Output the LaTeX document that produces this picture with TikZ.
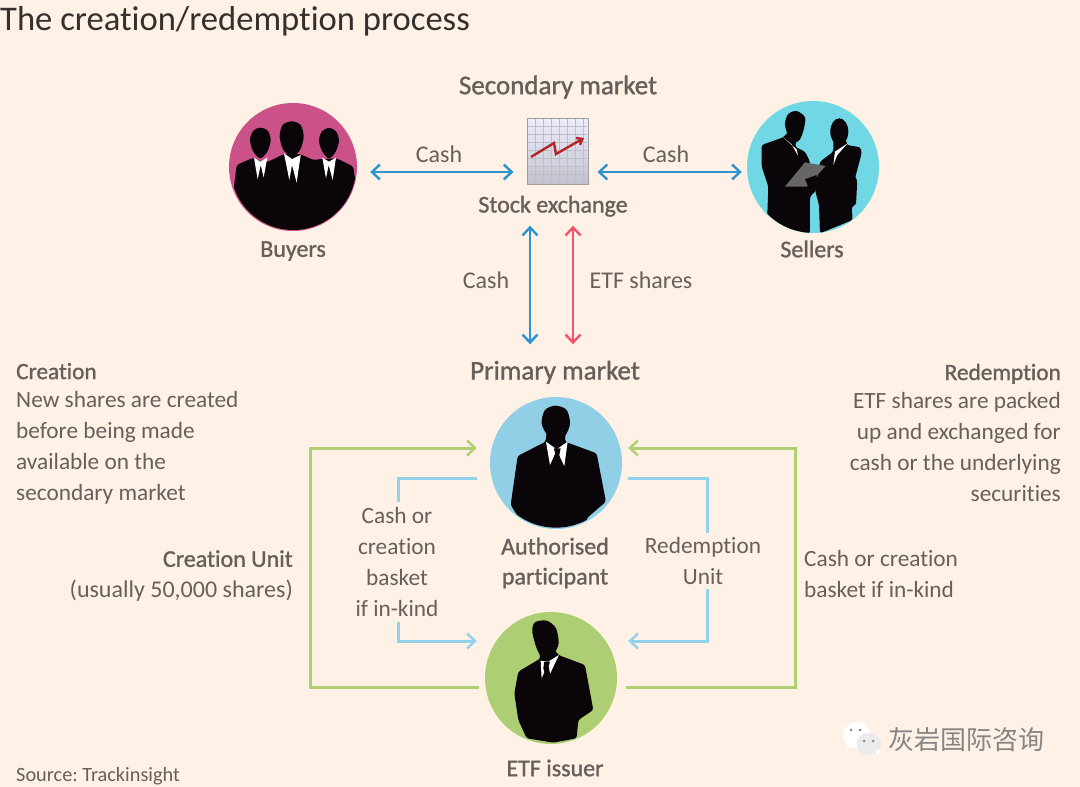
\documentclass[tikz,border=0pt]{standalone}
\usepackage{fontspec}
\setmainfont{Carlito}[Ligatures=NoCommon]
\newfontfamily\semifont{Carlito}[Ligatures=NoCommon, FakeBold=1.2]
\newfontfamily\cjkfont{Noto Sans CJK SC}
\usetikzlibrary{arrows.meta}
\definecolor{ftpaper}{HTML}{FFF1E5}
\definecolor{ftgrey}{HTML}{66605C}
\definecolor{ftink}{HTML}{33302E}
\definecolor{cashblue}{HTML}{2D94D2}
\definecolor{sharered}{HTML}{F2556B}
\definecolor{unitgreen}{HTML}{AFCF73}
\definecolor{basketblue}{HTML}{92D2EA}
\definecolor{buyerpink}{HTML}{CB5189}
\definecolor{sellercyan}{HTML}{70D8E4}
\definecolor{apblue}{HTML}{90CFE6}
\definecolor{issuergreen}{HTML}{ADCE72}
\definecolor{suit}{HTML}{0A0508}
\tikzset{
	ftlabel/.style={font=\fontsize{24}{31}\selectfont, text=ftgrey, inner sep=0pt, align=center},
	ftblock/.style={ftlabel, font=\fontsize{23.3}{31}\selectfont},
	ftbold/.style={ftlabel, font=\fontsize{24}{30}\selectfont\semifont},
	roundicon/.style={circle, inner sep=0pt, minimum size=#1},
	silhouette/.style={fill=suit, rounded corners=2.5pt},
	twobarb/.style={arrows={Straight Barb[length=8pt,width=15pt,line width=2.4pt]-Straight Barb[length=8pt,width=15pt,line width=2.4pt]}},
	barbs/.style={line width=2.4pt, arrows={-Straight Barb[length=8pt,width=15pt,line width=2.4pt]}},
	cashline/.style={barbs, cashblue, twobarb},
	shareline/.style={barbs, sharered, twobarb},
	unitline/.style={barbs, unitgreen, line width=3pt},
	basketline/.style={barbs, basketblue, line width=3pt},
}
\begin{document}
\frenchspacing
\begin{tikzpicture}[x=1pt, y=-1pt]
	\useasboundingbox (0,0) rectangle (1080,787);
	\fill[ftpaper] (0,0) rectangle (1080,787);

	\node[ftlabel, anchor=west, text=ftink, font=\fontsize{34.6}{40}\selectfont] (title) at (0,21) {The creation/redemption process};
	\node[ftbold, font=\fontsize{27}{30}\selectfont\semifont] (secondary) at (558,87) {Secondary market};
	\node[ftbold, font=\fontsize{27}{30}\selectfont\semifont, text height=16pt, text depth=5pt] (primary) at (555,374) {Primary market};

	% market players
	\node[roundicon=128pt, fill=buyerpink] (buyers) at (293,167) {};
	\node[roundicon=132pt, fill=sellercyan] (sellers) at (813,167) {};
	\node[roundicon=132pt, fill=apblue] (ap) at (556,463) {};
	\node[roundicon=132pt, fill=issuergreen] (issuer) at (551,678) {};
	\node[minimum width=61pt, minimum height=66pt, inner sep=0pt, draw=black!38, line width=1pt, top color=blue!7!white, bottom color=blue!20!black!24] (stock) at (557.5,151) {};

	\node[ftbold] (buyerslabel) at (293,251) {Buyers};
	\node[ftbold] (sellerslabel) at (812,249) {Sellers};
	\node[ftbold, text height=16pt, text depth=5pt] (stocklabel) at (553,207) {Stock exchange};
	\node[ftbold] (aplabel) at (555,563) {Authorised\\participant};
	\node[ftbold] (issuerlabel) at (555,768) {ETF issuer};

	% exchange icon
	\foreach \gx in {535,543,551,559,567,575,583}
		\draw[black!25, line width=0.6pt] (\gx,119) -- (\gx,183);
	\foreach \gy in {126,134,142,150,158,166,174}
		\draw[black!25, line width=0.6pt] (528,\gy) -- (587,\gy);
	\draw[red!65!black!85, line width=2.4pt, arrows={-Straight Barb[length=5pt,width=8pt]}] (531,157) -- (554,143) -- (556,154) -- (584,138);

	% buyers
	\begin{scope}[shift={(220,90)}, x=0.3333pt, y=-0.3333pt]
		\clip (220,232) circle[radius=188];
		\fill[silhouette] (42,290) -- (50,225) -- (100,203) -- (125,215) -- (145,215) -- (192,192) -- (240,192) -- (280,210) -- (305,207) -- (350,205) -- (400,230) -- (410,300) -- (410,430) -- (30,430) -- cycle;
		\fill[suit] plot[smooth cycle] coordinates {(90,150) (100,122) (121,113) (143,122) (152,150) (142,185) (121,205) (100,185)};
		\fill[suit] plot[smooth cycle] coordinates {(179,140) (188,105) (215,94) (242,105) (251,140) (240,180) (215,198) (190,180)};
		\fill[suit] plot[smooth cycle] coordinates {(297,152) (306,124) (327,114) (348,124) (357,152) (347,185) (327,205) (307,185)};
		\fill[white] (102,203) -- (113,268) -- (122,225) -- (131,262) -- (142,203) -- (121,215) -- cycle;
		\fill[white] (192,190) -- (208,270) -- (216,225) -- (230,278) -- (242,195) -- (216,207) -- cycle;
		\fill[white] (307,203) -- (318,265) -- (326,225) -- (338,270) -- (348,203) -- (327,215) -- cycle;
	\end{scope}

	% sellers
	\begin{scope}[shift={(620,90)}, x=0.3333pt, y=-0.3333pt]
		\clip (581,232) circle[radius=197];
		\fill[suit] plot[smooth cycle] coordinates {(495,100) (505,72) (530,63) (555,82) (552,115) (540,148) (522,158) (502,130)};
		\fill[silhouette] (505,125) -- (530,150) -- (525,170) -- (555,185) -- (570,215) -- (572,265) -- (590,300) -- (570,320) -- (570,430) -- (450,430) -- (442,375) -- (445,290) -- (425,230) -- (425,165) -- (490,142) -- cycle;
		\fill[suit] (658,125) ellipse[x radius=27, y radius=40];
		\fill[silhouette] (600,215) -- (640,185) -- (640,150) -- (680,150) -- (680,165) -- (722,172) -- (725,190) -- (705,265) -- (712,270) -- (708,345) -- (695,350) -- (698,390) -- (600,430) -- (597,345) -- (585,300) -- cycle;
		\fill[white] (487,140) -- (530,178) -- (534,197) -- (515,163) -- cycle (640,225) -- (645,185) -- (683,160) -- (652,195) -- cycle;
		\fill[black!60] (495,290) -- (555,217) -- (617,228) -- (560,290) -- cycle;
		\fill[suit] (555,268) -- (590,255) -- (592,285) -- (580,303) -- (565,290) -- cycle;
	\end{scope}

	% participant and issuer
	\begin{scope}[shift={(300,390)}, x=0.3333pt, y=-0.3333pt]
		\begin{scope}
			\clip (768,218) circle[radius=195];
			\fill[suit] plot[smooth cycle] coordinates {(725,100) (735,60) (767,47) (800,60) (810,100) (797,135) (770,155) (742,135)};
			\fill[silhouette] (740,125) -- (797,125) -- (795,155) -- (890,190) -- (918,335) -- (860,385) -- (860,420) -- (680,420) -- (632,345) -- (653,198) -- (737,155) -- cycle;
			\fill[white] (738,155) -- (750,225) -- (770,180) -- (793,228) -- (803,155) -- (770,178) -- cycle;
			\fill[suit] (762,175) -- (782,175) -- (778,195) -- (785,235) -- (758,235) -- (766,195) -- cycle;
		\end{scope}
		\begin{scope}
			\clip (752,865) circle[radius=195];
			\fill[suit] plot[smooth cycle] coordinates {(697,725) (705,697) (740,692) (768,715) (776,760) (762,790) (735,808) (712,780)};
			\fill[silhouette] (715,780) -- (765,780) -- (775,795) -- (855,825) -- (880,960) -- (835,990) -- (830,1045) -- (760,1058) -- (680,1045) -- (655,990) -- (643,910) -- (655,845) -- (722,805) -- cycle;
			\fill[white] (722,812) -- (725,865) -- (738,835) -- (750,852) -- (777,795) -- (745,815) -- cycle;
			\fill[suit] (733,815) -- (750,815) -- (746,830) -- (750,850) -- (738,862) -- (730,835) -- cycle;
		\end{scope}
	\end{scope}

	% secondary market flows
	\node[ftlabel] (cashleft) at (439,154) {Cash};
	\node[ftlabel] (cashright) at (666,154) {Cash};
	\node[ftlabel] (cashdown) at (486,280) {Cash};
	\node[ftlabel] (sharesdown) at (641,280) {ETF shares};
	\draw[cashline] ([xshift=13pt,yshift=-5pt]buyers.east) -- ([xshift=-13pt,yshift=-21pt]stock.west);
	\draw[cashline] ([xshift=9pt,yshift=-21pt]stock.east) -- ([xshift=-5pt,yshift=-5pt]sellers.west);
	\draw[cashline] ([xshift=-23pt,yshift=-8pt]stocklabel.south) -- ([xshift=-25pt,yshift=19pt]primary.north);
	\draw[shareline] ([xshift=20pt,yshift=-8pt]stocklabel.south) -- ([xshift=18pt,yshift=19pt]primary.north);

	% side texts
	\node[ftblock, anchor=west, align=left] (creation) at (16,433.7) {{\semifont Creation}\\[-2.5pt]New shares are created\\before being made\\available on the\\secondary market};
	\node[ftblock, anchor=east, align=right] (redemption) at (1061,432.5) {{\semifont Redemption}\\[-3pt]ETF shares are packed\\up and exchanged for\\cash or the underlying\\securities};
	\node[ftlabel, anchor=east, align=right] (creationunit) at (293,576) {{\semifont Creation Unit}\\(usually 50,000 shares)};
	\node[ftblock, anchor=west, align=left] (cashright2) at (804,574) {Cash or creation\\basket if in-kind};
	\node[ftblock, inner ysep=6pt] (basket) at (397,561.5) {Cash or\\creation\\basket\\if in-kind};
	\node[ftblock, inner ysep=4pt] (redunit) at (703,561) {Redemption\\Unit};

	% primary market flows
	\draw[unitline] ([xshift=-6pt,yshift=-9pt]issuer.west) -- (310,687) -- (310,448) -- ([xshift=-13pt,yshift=15pt]ap.west);
	\draw[unitline] ([xshift=9pt,yshift=-9pt]issuer.east) -- (795,687) -- (795,448) -- ([xshift=6pt,yshift=15pt]ap.east);
	\draw[basketline, -] ([xshift=-13pt,yshift=-15pt]ap.west) -| ([xshift=1pt,yshift=-1pt]basket.north);
	\draw[basketline] ([xshift=1pt]basket.south) |- ([xshift=-8pt,yshift=37pt]issuer.west);
	\draw[basketline, -] ([xshift=6pt,yshift=-15pt]ap.east) -| ([xshift=4pt]redunit.north);
	\draw[basketline] ([xshift=4pt]redunit.south) |- ([xshift=11pt,yshift=37pt]issuer.east);

	% footer
	\node[ftlabel, anchor=west, font=\fontsize{20.3}{24}\selectfont] (source) at (16,776) {Source: Trackinsight};
	\node[anchor=west, inner sep=0pt, text=black!48, font=\fontsize{26}{30}\cjkfont] (wechat) at (888,740) {灰岩国际咨询};
	\fill[white] (857,735) ellipse[x radius=14, y radius=13];
	\fill[white] (848,743) -- (846,749) -- (854,746) -- cycle;
	\fill[black!45] (851,730) circle[radius=1.5] (860,730) circle[radius=1.5];
	\fill[white!92!black] (869,744) ellipse[x radius=12.5, y radius=11];
	\fill[white] (875,752) -- (879,756) -- (879,749) -- cycle;
	\fill[black!45] (864,741) circle[radius=1.5] (873,741) circle[radius=1.5];
\end{tikzpicture}
\end{document}
